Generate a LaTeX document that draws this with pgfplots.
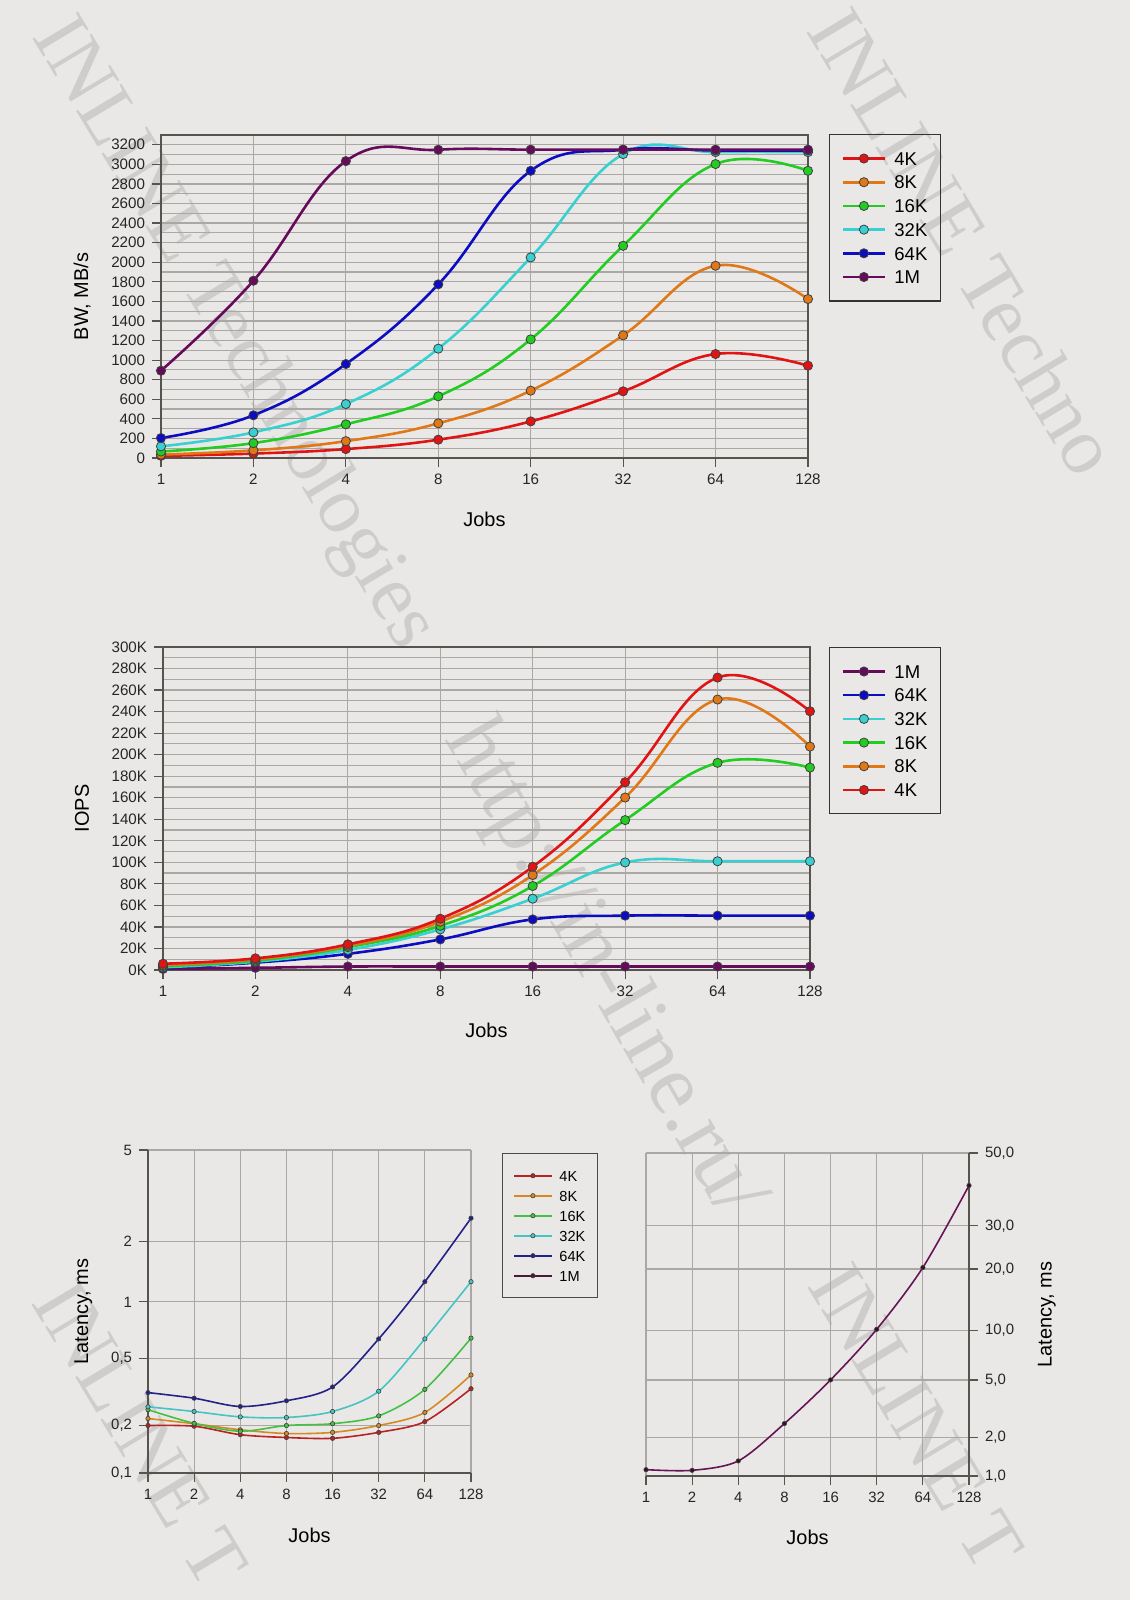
\documentclass[border=0pt]{standalone}
\usepackage{fontspec}
\setmainfont{Liberation Sans}
\newfontfamily\wmfont{Liberation Serif}
\usepackage{pgfplots}
\pgfplotsset{compat=1.18}

\definecolor{bg}{HTML}{EAE8E6}
\definecolor{gridc}{HTML}{AAA7A4}
\definecolor{axc}{HTML}{57544F}
\definecolor{wm}{HTML}{CFCDCB}
\definecolor{cA}{HTML}{E01414}
\definecolor{cB}{HTML}{E07818}
\definecolor{cC}{HTML}{22CC22}
\definecolor{cD}{HTML}{38D0D0}
\definecolor{cE}{HTML}{0C0CC0}
\definecolor{cF}{HTML}{660A5C}
\definecolor{lA}{HTML}{B82222}
\definecolor{lB}{HTML}{D48A22}
\definecolor{lC}{HTML}{44C044}
\definecolor{lD}{HTML}{44C4C4}
\definecolor{lE}{HTML}{222288}
\definecolor{lF}{HTML}{4A1838}

\begin{document}
\begin{tikzpicture}
\useasboundingbox (0,0) rectangle (565bp,800bp);
\fill[bg] (0,0) rectangle (565bp,800bp);
\begin{scope}
\clip (0,0) rectangle (565bp,800bp);
\node[wm, font=\wmfont\fontsize{40.5}{40.5}\selectfont, rotate=-59, anchor=base west, inner sep=0pt] at (15.5bp,782bp) {INLINE Technologies};
\node[wm, font=\wmfont\fontsize{40.5}{40.5}\selectfont, rotate=-59, anchor=base west, inner sep=0pt] at (402.5bp,785bp) {INLINE Techno};
\node[wm, font=\wmfont\fontsize{44}{44}\selectfont, rotate=-60, inner sep=0pt] at (301bp,315bp) {http://in-line.ru/};
\node[wm, font=\wmfont\fontsize{40.5}{40.5}\selectfont, rotate=-59, anchor=base west, inner sep=0pt] at (15bp,149bp) {INLINE T};
\node[wm, font=\wmfont\fontsize{40.5}{40.5}\selectfont, rotate=-59, anchor=base west, inner sep=0pt] at (403bp,157.5bp) {INLINE T};
\end{scope}

% ---------- BW ----------
\begin{axis}[at={(80.5bp,571bp)}, anchor=south west,
  scale only axis, width=323.5bp, height=161.5bp,
  xmode=log, log basis x=2, xmin=1, xmax=128,
  xtick={1,2,4,8,16,32,64,128}, xticklabels={1,2,4,8,16,32,64,128},
  minor x tick num=0,
  ymin=0, ymax=3300, ytick={0,200,...,3200}, minor y tick num=1,
  /pgf/number format/1000 sep={},
  xmajorgrids, ymajorgrids, yminorgrids,
  major grid style={draw=gridc, line width=0.6bp},
  minor grid style={draw=gridc, line width=0.6bp},
  axis line style={draw=axc, line width=0.7bp},
  tick style={draw=axc, line width=0.6bp},
  tick align=outside, major tick length=4.5bp, minor tick length=0pt,
  xtick pos=bottom, ytick pos=left,
  /pgf/number format/assume math mode=true,
  tick label style={font=\fontsize{7.6}{9}\selectfont, text=black!85},
  label style={font=\fontsize{10}{12}\selectfont},
  xlabel={Jobs}, ylabel={BW, MB/s},
  every axis x label/.style={at={(axis description cs:0.5,-0.189)}, anchor=center},
  every axis y label/.style={at={(axis description cs:-0.122,0.5)}, rotate=90, anchor=center},
  legend cell align=left,
  legend style={at={(1.0325,1.003)}, anchor=north west, draw=black!80, fill=none, line width=0.6bp,
    font=\fontsize{9.3}{10}\selectfont, inner xsep=6bp, inner ysep=8bp, row sep=3.95bp, column sep=3.5bp,
    nodes={inner sep=0.6bp, text height=6.7bp, text depth=0bp}},
  legend image code/.code={\draw[#1, mark repeat=2, mark phase=2] plot coordinates {(0bp,0bp) (10.5bp,0bp) (21bp,0bp)};},
  every axis plot/.append style={line width=1.3bp, smooth, tension=0.7, mark=*, mark size=2.3bp},
]
\addplot[draw=cA, mark options={fill=cA, draw=black!75, line width=0.4bp}] coordinates {(1,22) (2,45) (4,91) (8,187) (16,374) (32,681) (64,1062) (128,943)};
\addlegendentry{4K}
\addplot[draw=cB, mark options={fill=cB, draw=black!75, line width=0.4bp}] coordinates {(1,35) (2,78) (4,172) (8,354) (16,688) (32,1253) (64,1964) (128,1624)};
\addlegendentry{8K}
\addplot[draw=cC, mark options={fill=cC, draw=black!75, line width=0.4bp}] coordinates {(1,66) (2,152) (4,344) (8,630) (16,1212) (32,2168) (64,3003) (128,2934)};
\addlegendentry{16K}
\addplot[draw=cD, mark options={fill=cD, draw=black!75, line width=0.4bp}] coordinates {(1,119) (2,262) (4,551) (8,1117) (16,2049) (32,3105) (64,3125) (128,3125)};
\addlegendentry{32K}
\addplot[draw=cE, mark options={fill=cE, draw=black!75, line width=0.4bp}] coordinates {(1,204) (2,436) (4,960) (8,1774) (16,2934) (32,3149) (64,3142) (128,3142)};
\addlegendentry{64K}
\addplot[draw=cF, mark options={fill=cF, draw=black!75, line width=0.4bp}] coordinates {(1,892) (2,1811) (4,3033) (8,3149) (16,3150) (32,3150) (64,3150) (128,3150)};
\addlegendentry{1M}
\end{axis}

% ---------- IOPS ----------
\begin{axis}[at={(81.5bp,315bp)}, anchor=south west,
  scale only axis, width=323.5bp, height=161.5bp,
  xmode=log, log basis x=2, xmin=1, xmax=128,
  xtick={1,2,4,8,16,32,64,128}, xticklabels={1,2,4,8,16,32,64,128},
  minor x tick num=0,
  ymin=0, ymax=300, ytick={0,20,...,300}, minor y tick num=1,
  yticklabels={0K,20K,40K,60K,80K,100K,120K,140K,160K,180K,200K,220K,240K,260K,280K,300K},
  xmajorgrids, ymajorgrids, yminorgrids,
  major grid style={draw=gridc, line width=0.6bp},
  minor grid style={draw=gridc, line width=0.6bp},
  axis line style={draw=axc, line width=0.7bp},
  tick style={draw=axc, line width=0.6bp},
  tick align=outside, major tick length=4.5bp, minor tick length=0pt,
  xtick pos=bottom, ytick pos=left,
  /pgf/number format/assume math mode=true,
  tick label style={font=\fontsize{7.6}{9}\selectfont, text=black!85},
  label style={font=\fontsize{10}{12}\selectfont},
  xlabel={Jobs}, ylabel={IOPS},
  every axis x label/.style={at={(axis description cs:0.5,-0.186)}, anchor=center},
  every axis y label/.style={at={(axis description cs:-0.125,0.5)}, rotate=90, anchor=center},
  legend cell align=left,
  legend style={at={(1.0295,1.0)}, anchor=north west, draw=black!80, fill=none, line width=0.6bp,
    font=\fontsize{9.3}{10}\selectfont, inner xsep=6bp, inner ysep=8bp, row sep=3.95bp, column sep=3.5bp,
    nodes={inner sep=0.6bp, text height=6.7bp, text depth=0bp}},
  legend image code/.code={\draw[#1, mark repeat=2, mark phase=2] plot coordinates {(0bp,0bp) (10.5bp,0bp) (21bp,0bp)};},
  every axis plot/.append style={line width=1.3bp, smooth, tension=0.7, mark=*, mark size=2.3bp},
]
\addplot[draw=cF, mark options={fill=cF, draw=black!75, line width=0.4bp}] coordinates {(1,1.0) (2,2.0) (4,3.2) (8,3.2) (16,3.2) (32,3.2) (64,3.2) (128,3.2)};
\addlegendentry{1M}
\addplot[draw=cE, mark options={fill=cE, draw=black!75, line width=0.4bp}] coordinates {(1,2.0) (2,6.8) (4,15.0) (8,28.4) (16,47.0) (32,50.5) (64,50.5) (128,50.5)};
\addlegendentry{64K}
\addplot[draw=cD, mark options={fill=cD, draw=black!75, line width=0.4bp}] coordinates {(1,2.5) (2,7.7) (4,18.6) (8,37.7) (16,66.2) (32,99.9) (64,101.0) (128,101.0)};
\addlegendentry{32K}
\addplot[draw=cC, mark options={fill=cC, draw=black!75, line width=0.4bp}] coordinates {(1,3.7) (2,8.7) (4,21.2) (8,41.0) (16,78.0) (32,139.2) (64,192.4) (128,188.0)};
\addlegendentry{16K}
\addplot[draw=cB, mark options={fill=cB, draw=black!75, line width=0.4bp}] coordinates {(1,4.6) (2,9.9) (4,22.5) (8,44.8) (16,88.2) (32,160.2) (64,251.2) (128,207.5)};
\addlegendentry{8K}
\addplot[draw=cA, mark options={fill=cA, draw=black!75, line width=0.4bp}] coordinates {(1,5.8) (2,10.8) (4,23.8) (8,47.6) (16,95.9) (32,174.4) (64,271.6) (128,240.3)};
\addlegendentry{4K}
\end{axis}

% ---------- Latency (small blocks) ----------
\begin{axis}[at={(74bp,63.5bp)}, anchor=south west,
  scale only axis, width=161.5bp, height=161.5bp,
  xmode=log, log basis x=2, xmin=1, xmax=128,
  xtick={1,2,4,8,16,32,64,128}, xticklabels={1,2,4,8,16,32,64,128},
  minor x tick num=0,
  axis x line*=bottom, axis y line*=left,
  y coord trafo/.code={\pgfmathparse{log10(#1)}\let\Lv=\pgfmathresult
    \pgfmathparse{\Lv<-0.69897 ? (\Lv+1)*158.12 : (\Lv<-0.30103 ? 47.6+(\Lv+0.69897)*169.37 : (\Lv<0 ? 115+(\Lv+0.30103)*187.03 : (\Lv<0.30103 ? 171.3+\Lv*201.64 : 232+(\Lv-0.30103)*229.43)))}},
  ymin=0.1, ymax=5,
  ytick={0.1,0.2,0.5,1,2,5}, yticklabels={{0,1},{0,2},{0,5},1,2,5},
  xmajorgrids, ymajorgrids,
  major grid style={draw=gridc, line width=0.6bp},
  axis line style={draw=axc, line width=0.7bp},
  tick style={draw=axc, line width=0.6bp},
  tick align=outside, major tick length=4.5bp, minor tick length=0pt,
  /pgf/number format/assume math mode=true,
  tick label style={font=\fontsize{7.5}{9}\selectfont, text=black!85},
  label style={font=\fontsize{10}{12}\selectfont},
  xlabel={Jobs}, ylabel={Latency, ms},
  every axis x label/.style={at={(axis description cs:0.5,-0.192)}, anchor=center},
  every axis y label/.style={at={(axis description cs:-0.2,0.5)}, rotate=90, anchor=center},
  legend cell align=left,
  legend style={at={(1.096,0.99)}, anchor=north west, draw=black!70, fill=none, line width=0.6bp,
    font=\fontsize{7.3}{9}\selectfont, inner xsep=5.5bp, inner ysep=7.7bp, row sep=3.5bp, column sep=3bp,
    nodes={inner sep=0.6bp, text height=5.3bp, text depth=0bp}},
  legend image code/.code={\draw[#1, mark repeat=2, mark phase=2] plot coordinates {(0bp,0bp) (9.25bp,0bp) (18.5bp,0bp)};},
  every axis plot/.append style={line width=0.8bp, smooth, tension=0.5, mark=*, mark size=1.1bp},
]
\addplot[draw=lA, mark options={fill=lA, draw=black!75, line width=0.3bp}] coordinates {(1,0.200) (2,0.198) (4,0.175) (8,0.168) (16,0.166) (32,0.181) (64,0.211) (128,0.330)};
\addlegendentry{4K}
\addplot[draw=lB, mark options={fill=lB, draw=black!75, line width=0.3bp}] coordinates {(1,0.220) (2,0.205) (4,0.188) (8,0.178) (16,0.181) (32,0.200) (64,0.239) (128,0.398)};
\addlegendentry{8K}
\addplot[draw=lC, mark options={fill=lC, draw=black!75, line width=0.3bp}] coordinates {(1,0.248) (2,0.206) (4,0.184) (8,0.200) (16,0.205) (32,0.228) (64,0.327) (128,0.640)};
\addlegendentry{16K}
\addplot[draw=lD, mark options={fill=lD, draw=black!75, line width=0.3bp}] coordinates {(1,0.258) (2,0.242) (4,0.225) (8,0.223) (16,0.242) (32,0.319) (64,0.634) (128,1.26)};
\addlegendentry{32K}
\addplot[draw=lE, mark options={fill=lE, draw=black!75, line width=0.3bp}] coordinates {(1,0.313) (2,0.290) (4,0.259) (8,0.280) (16,0.338) (32,0.634) (64,1.26) (128,2.52)};
\addlegendentry{64K}
\addlegendimage{draw=lF, line width=0.8bp, mark=*, mark size=1.1bp, mark options={fill=lF, draw=black!75, line width=0.3bp}}
\addlegendentry{1M}
\end{axis}

% ---------- Latency (1M) ----------
\begin{axis}[at={(323bp,62bp)}, anchor=south west,
  scale only axis, width=161.5bp, height=161.5bp,
  xmode=log, log basis x=2, xmin=1, xmax=128,
  xtick={1,2,4,8,16,32,64,128}, xticklabels={1,2,4,8,16,32,64,128},
  minor x tick num=0,
  axis x line*=bottom, axis y line*=right,
  y coord trafo/.code={\pgfmathparse{log10(#1)}\let\Lv=\pgfmathresult
    \pgfmathparse{\Lv<0.30103 ? \Lv*128.56 : (\Lv<0.69897 ? 38.7+(\Lv-0.30103)*143.99 : (\Lv<1 ? 96+(\Lv-0.69897)*165.10 : (\Lv<1.30103 ? 145.7+(\Lv-1)*202.64 : (\Lv<1.47712 ? 206.7+(\Lv-1.30103)*245.90 : 250+(\Lv-1.47712)*327.70))))}},
  ymin=1, ymax=50,
  ytick={1,2,5,10,20,30,50}, yticklabels={{1,0},{2,0},{5,0},{10,0},{20,0},{30,0},{50,0}},
  xmajorgrids, ymajorgrids,
  major grid style={draw=gridc, line width=0.6bp},
  axis line style={draw=axc, line width=0.7bp},
  tick style={draw=axc, line width=0.6bp},
  tick align=outside, major tick length=4.5bp, minor tick length=0pt,
  /pgf/number format/assume math mode=true,
  tick label style={font=\fontsize{7.5}{9}\selectfont, text=black!85},
  label style={font=\fontsize{10}{12}\selectfont},
  xlabel={Jobs}, ylabel={Latency, ms},
  every axis x label/.style={at={(axis description cs:0.5,-0.189)}, anchor=center},
  every axis y label/.style={at={(axis description cs:1.241,0.5)}, rotate=90, anchor=center},
  every axis plot/.append style={line width=0.8bp, smooth, tension=0.5, mark=*, mark size=1.1bp},
]
\addplot[draw=lF!85!magenta, mark options={fill=lF!70!black, draw=black!75, line width=0.3bp}] coordinates {(1,1.12) (2,1.107) (4,1.31) (8,2.49) (16,5.0) (32,10.1) (64,20.3) (128,39.8)};
\end{axis}
\end{tikzpicture}
\end{document}
